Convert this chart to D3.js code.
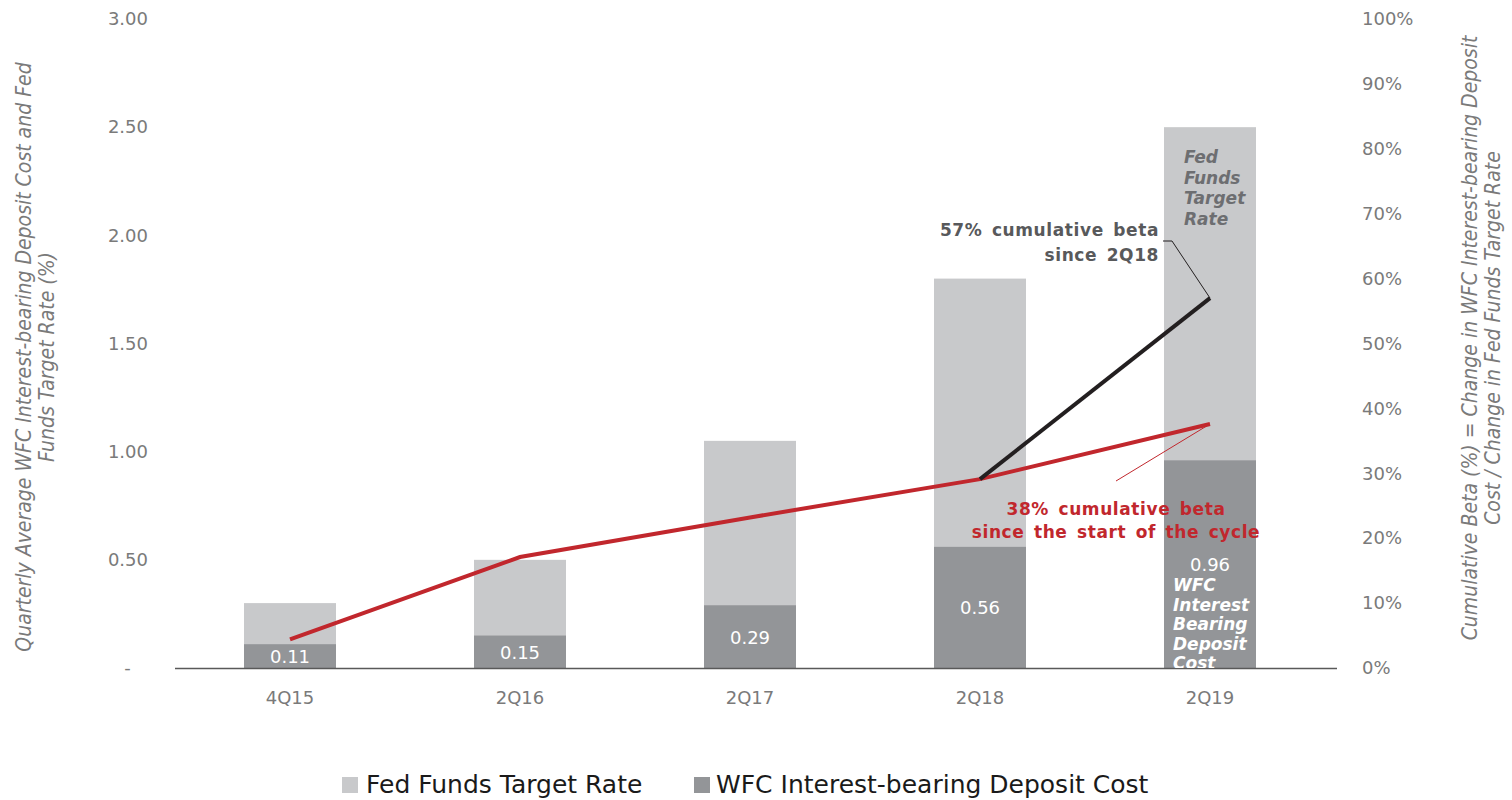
<!DOCTYPE html>
<html>
<head>
<meta charset="utf-8">
<script src="https://cdn.jsdelivr.net/npm/d3@7"></script>
<style>
  body { margin: 0; background: #fff; }
  svg { display: block; }
</style>
</head>
<body>
<div id="chart"></div>
<script>
// Chart data
const quarters      = ["4Q15", "2Q16", "2Q17", "2Q18", "2Q19"];
const fedFunds      = [0.30, 0.50, 1.05, 1.80, 2.50];
const wfcCost       = [0.11, 0.15, 0.29, 0.56, 0.96];
const cumBeta       = [4.4, 17.1, 23.2, 29.1, 37.6];
const betaSince2Q18 = [null, null, null, 29.1, 57.0];
const leftTicks     = [0, 0.5, 1, 1.5, 2, 2.5, 3];
const rightTicks    = [0, 10, 20, 30, 40, 50, 60, 70, 80, 90, 100];

const W = 1512, H = 800;
const cfg = {
  left: 175, right: 1325, top: 19, bottom: 668,
  light: "#c8c9cb", dark: "#939598", red: "#c1272d", black: "#231f20",
  tick: "#7a7a7a", font: "DejaVu Sans, Verdana, sans-serif",
  condensed: "'DejaVu Sans Condensed', 'Liberation Sans Narrow', sans-serif"
};

const svg = d3.select("#chart").append("svg")
  .attr("width", W).attr("height", H);

const x = d3.scaleBand().domain(quarters).range([cfg.left, cfg.right]).paddingInner(0.6).paddingOuter(0.3);
const y = d3.scaleLinear().domain([0, 3]).range([cfg.bottom, cfg.top]);
const y2 = d3.scaleLinear().domain([0, 100]).range([cfg.bottom, cfg.top]);

svg.append("defs").append("clipPath").attr("id", "plot")
  .append("rect").attr("x", 0).attr("y", 0).attr("width", W).attr("height", cfg.bottom);

// bars: fed funds full height, WFC cost overlaid from the base
svg.append("g").selectAll("rect").data(quarters).enter().append("rect")
  .attr("x", d => x(d)).attr("width", x.bandwidth())
  .attr("y", (d, i) => y(fedFunds[i])).attr("height", (d, i) => y(0) - y(fedFunds[i]))
  .attr("fill", cfg.light);

svg.append("g").selectAll("rect").data(quarters).enter().append("rect")
  .attr("x", d => x(d)).attr("width", x.bandwidth())
  .attr("y", (d, i) => y(wfcCost[i])).attr("height", (d, i) => y(0) - y(wfcCost[i]))
  .attr("fill", cfg.dark);

svg.append("g").selectAll("text").data(quarters).enter().append("text")
  .attr("x", d => x(d) + x.bandwidth() / 2)
  .attr("y", (d, i) => (y(wfcCost[i]) + y(0)) / 2 + 7)
  .attr("text-anchor", "middle").attr("fill", "#fff")
  .style("font-family", cfg.font).style("font-size", "18px")
  .text((d, i) => wfcCost[i].toFixed(2));

// axes
const gl = svg.append("g").attr("transform", `translate(${cfg.left - 27},0)`)
  .call(d3.axisLeft(y).tickValues(leftTicks).tickSize(0)
    .tickFormat(d => d === 0 ? "-   " : d3.format(".2f")(d)));
const gr = svg.append("g").attr("transform", `translate(${cfg.right + 37},0)`)
  .call(d3.axisRight(y2).tickValues(rightTicks).tickSize(0).tickFormat(d => d + "%"));
const gx = svg.append("g").attr("transform", `translate(0,${cfg.bottom + 20})`)
  .call(d3.axisBottom(x).tickSize(0));
[gl, gr, gx].forEach(g => {
  g.select(".domain").remove();
  g.selectAll("text").attr("fill", cfg.tick)
    .style("font-family", cfg.font).style("font-size", "18px");
});
gl.selectAll("text").attr("x", 0).style("white-space", "pre");
gr.selectAll("text").attr("x", 0);

svg.append("line")
  .attr("x1", cfg.left).attr("x2", cfg.right + 12)
  .attr("y1", cfg.bottom + 0.5).attr("y2", cfg.bottom + 0.5)
  .attr("stroke", "#595959").attr("stroke-width", 1.5);

// lines
const cx = d => x(d) + x.bandwidth() / 2;
const redLine = d3.line().x((d, i) => cx(quarters[i])).y(d => y2(d));
svg.append("path").datum(cumBeta).attr("d", redLine)
  .attr("fill", "none").attr("stroke", cfg.red).attr("stroke-width", 4);

const blackLine = d3.line().defined(d => d !== null).x((d, i) => cx(quarters[i])).y(d => y2(d));
svg.append("path").datum(betaSince2Q18).attr("d", blackLine)
  .attr("fill", "none").attr("stroke", cfg.black).attr("stroke-width", 4);

// annotations
const last = quarters.length - 1;
const pB = [cx(quarters[last]), y2(betaSince2Q18[last])];
const pR = [cx(quarters[last]), y2(cumBeta[last])];

svg.append("polyline")
  .attr("points", [[1163, 241], [1172, 241], pB].map(p => p.join(",")).join(" "))
  .attr("fill", "none").attr("stroke", cfg.black).attr("stroke-width", 1);
svg.append("line")
  .attr("x1", 1116).attr("y1", 481).attr("x2", pR[0]).attr("y2", pR[1])
  .attr("stroke", cfg.red).attr("stroke-width", 1);

const bold = sel => sel.style("font-family", cfg.font).style("font-size", "17px")
  .style("font-weight", "bold").style("letter-spacing", "0.6px").style("word-spacing", "3px");

const t57 = svg.append("text").attr("text-anchor", "end").attr("fill", "#58595b").call(bold);
t57.append("tspan").attr("x", 1159).attr("y", 236).text("57% cumulative beta");
t57.append("tspan").attr("x", 1159).attr("y", 261).text("since 2Q18");

const t38 = svg.append("text").attr("text-anchor", "middle").attr("fill", cfg.red).call(bold);
t38.append("tspan").attr("x", 1116).attr("y", 515).text("38% cumulative beta");
t38.append("tspan").attr("x", 1116).attr("y", 538).text("since the start of the cycle");

const tFed = svg.append("text").attr("fill", "#6d6e71")
  .style("font-family", cfg.font).style("font-size", "17px")
  .style("font-weight", "bold").style("font-style", "italic");
["Fed", "Funds", "Target", "Rate"].forEach((s, i) =>
  tFed.append("tspan").attr("x", 1184).attr("y", 163 + i * 20.5).text(s));

const tWfc = svg.append("text").attr("fill", "#fff").attr("clip-path", "url(#plot)")
  .style("font-family", cfg.font).style("font-size", "17px")
  .style("font-weight", "bold").style("font-style", "italic");
["WFC", "Interest", "Bearing", "Deposit", "Cost"].forEach((s, i) =>
  tWfc.append("tspan").attr("x", 1173).attr("y", 591 + i * 19.5).text(s));

// axis titles
const tl = svg.append("text").attr("transform", "translate(0,357) rotate(-90)")
  .attr("text-anchor", "middle").attr("fill", cfg.tick)
  .style("font-family", cfg.condensed).style("font-size", "21px").style("font-style", "italic");
tl.append("tspan").attr("x", 0).attr("y", 31).text("Quarterly Average WFC Interest-bearing Deposit  Cost and Fed");
tl.append("tspan").attr("x", 0).attr("y", 54).text("Funds Target Rate (%)");

const tr = svg.append("text").attr("transform", "translate(0,338) rotate(-90)")
  .attr("text-anchor", "middle").attr("fill", cfg.tick)
  .style("font-family", cfg.condensed).style("font-size", "21px").style("font-style", "italic");
tr.append("tspan").attr("x", 0).attr("y", 1477).text("Cumulative Beta (%) = Change in WFC Interest-bearing Deposit");
tr.append("tspan").attr("x", 0).attr("y", 1500).text("Cost / Change in Fed Funds Target Rate");

// legend
const legendItems = [["Fed Funds Target Rate", cfg.light, 342, 24], ["WFC Interest-bearing Deposit Cost", cfg.dark, 694, 22]];
const lg = svg.append("g").selectAll("g").data(legendItems).enter().append("g")
  .attr("transform", d => `translate(${d[2]},776)`);
lg.append("rect").attr("y", 1).attr("width", 16).attr("height", 16).attr("fill", d => d[1]);
lg.append("text").attr("x", d => d[3]).attr("y", 17).attr("fill", "#1a1a1a")
  .style("font-family", cfg.font).style("font-size", "25px").text(d => d[0]);
</script>
</body>
</html>
